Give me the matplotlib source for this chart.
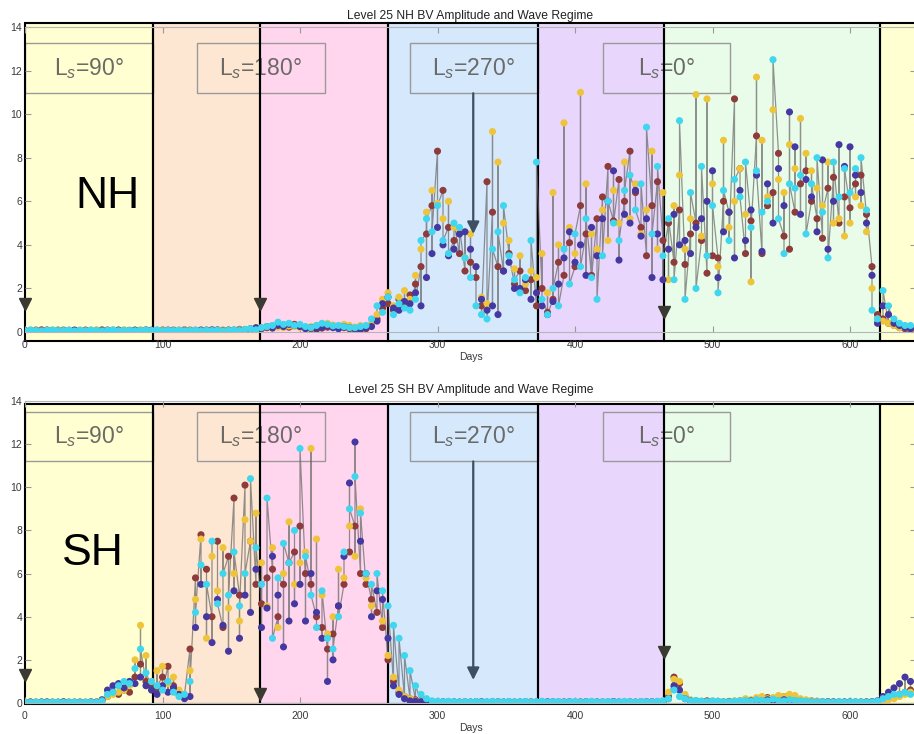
import numpy as np
import matplotlib
matplotlib.use("Agg")
import matplotlib.pyplot as plt
from matplotlib.patches import Rectangle

plt.rcParams['font.family'] = ['Liberation Sans', 'DejaVu Sans']
plt.rcParams['mathtext.fontset'] = 'custom'
plt.rcParams['mathtext.rm'] = 'Liberation Sans'
plt.rcParams['mathtext.it'] = 'Liberation Sans:italic'

# ---------------- data ----------------
days = np.arange(0, 648, 4)

nh_maroon = [
    0.05,0.08,0.06,0.10,0.07,0.05,0.09,0.06,0.08,0.07,
    0.06,0.09,0.05,0.08,0.10,0.06,0.07,0.09,0.05,0.08,
    0.07,0.06,0.10,0.08,0.05,0.09,0.07,0.06,0.08,0.10,
    0.06,0.08,0.07,0.09,0.05,0.10,0.08,0.06,0.09,0.12,
    0.10,0.08,0.12,0.15,0.20,0.18,0.25,0.30,0.22,0.35,
    0.28,0.20,0.15,0.12,0.18,0.22,0.30,0.25,0.20,0.15,
    0.12,0.18,0.15,0.30,0.60,1.10,1.30,1.00,1.50,1.20,
    1.7,2.2,3.0,4.5,5.8,8.3,6.5,4.8,4.2,3.6,
    2.8,3.2,2.5,1.2,6.9,5.5,3.0,2.8,3.6,2.2,
    2.8,1.9,2.4,1.2,2.0,0.9,1.5,3.2,2.6,4.1,
    3.0,5.8,4.5,2.6,5.2,6.2,7.6,5.1,7.0,6.0,
    8.3,6.4,4.8,3.5,5.8,6.9,4.2,5.0,3.2,5.6,
    3.1,4.5,5.0,4.2,2.7,3.5,3.4,6.0,5.5,10.7,
    7.5,3.6,5.1,9.0,3.6,5.8,6.4,8.2,4.4,3.8,
    5.5,6.8,7.4,6.0,5.2,4.3,6.6,7.1,5.0,6.2,
    5.7,6.8,7.2,5.4,3.0,0.8,0.6,0.4,0.3,0.2,
    0.15,0.10]
nh_gold = [
    0.08,0.06,0.10,0.07,0.09,0.05,0.08,0.10,0.06,0.07,
    0.09,0.07,0.06,0.10,0.08,0.05,0.09,0.07,0.10,0.06,
    0.08,0.10,0.07,0.06,0.09,0.08,0.05,0.10,0.07,0.09,
    0.10,0.07,0.09,0.06,0.08,0.07,0.10,0.09,0.06,0.10,
    0.12,0.10,0.15,0.20,0.25,0.30,0.22,0.20,0.28,0.25,
    0.20,0.18,0.25,0.30,0.35,0.40,0.32,0.28,0.35,0.30,
    0.22,0.30,0.25,0.40,0.80,1.50,1.80,1.20,1.60,1.90,
    1.5,2.6,3.8,5.5,6.5,5.9,5.2,6.0,4.8,4.6,
    3.4,4.5,3.0,1.6,1.3,9.2,7.8,5.0,4.2,2.9,
    3.5,2.2,2.8,2.5,3.6,1.8,6.4,4.0,9.6,4.8,
    3.6,11.0,6.8,4.5,3.8,5.6,4.2,6.5,5.0,7.8,
    5.2,6.8,4.5,5.6,8.3,3.8,6.4,2.4,5.8,7.2,
    3.8,5.2,10.9,4.4,10.7,6.8,3.0,8.8,4.8,6.0,
    7.5,5.4,2.3,11.7,8.8,6.2,10.2,7.0,6.4,8.6,
    7.5,9.8,8.2,7.4,6.6,5.8,7.8,5.0,5.2,4.4,
    5.0,6.2,5.8,4.6,2.0,0.6,0.5,0.4,0.3,0.2,
    0.20,0.15]
nh_navy = [
    0.07,0.05,0.08,0.06,0.09,0.07,0.05,0.08,0.06,0.09,
    0.07,0.06,0.08,0.05,0.07,0.09,0.06,0.08,0.07,0.05,
    0.09,0.07,0.06,0.08,0.07,0.05,0.09,0.08,0.06,0.07,
    0.08,0.06,0.09,0.07,0.10,0.08,0.06,0.09,0.07,0.08,
    0.10,0.15,0.20,0.18,0.25,0.20,0.30,0.25,0.35,0.30,
    0.25,0.15,0.20,0.18,0.22,0.30,0.20,0.15,0.25,0.20,
    0.15,0.12,0.20,0.25,0.50,1.30,1.60,1.10,1.00,1.40,
    1.3,1.8,1.2,2.5,3.6,4.8,4.0,3.5,3.8,4.5,
    4.6,3.8,3.0,1.5,1.0,1.2,0.8,2.8,3.2,2.0,
    2.0,2.4,1.5,1.8,1.2,0.8,1.4,2.2,3.4,4.6,
    3.2,4.0,2.6,4.8,3.5,5.2,6.0,7.4,3.3,5.4,
    5.0,6.5,4.4,5.2,2.5,4.5,2.4,3.8,5.4,4.0,
    4.2,3.6,4.8,5.2,6.0,7.4,2.5,4.6,5.5,3.4,
    6.5,4.2,5.6,7.2,3.7,6.8,5.0,7.5,5.8,10.1,
    8.5,5.4,7.0,6.2,4.6,7.9,3.8,6.0,8.6,7.6,
    8.5,7.2,6.4,5.0,2.6,0.4,1.2,0.8,0.4,0.3,
    0.20,0.15]
nh_cyan = [
    0.06,0.09,0.07,0.05,0.08,0.10,0.06,0.07,0.09,0.05,
    0.08,0.06,0.09,0.07,0.05,0.08,0.10,0.06,0.08,0.07,
    0.06,0.08,0.09,0.07,0.10,0.06,0.08,0.07,0.09,0.06,
    0.07,0.09,0.06,0.08,0.07,0.09,0.05,0.08,0.10,0.07,
    0.12,0.15,0.10,0.20,0.25,0.30,0.45,0.35,0.40,0.30,
    0.35,0.25,0.20,0.30,0.40,0.35,0.28,0.30,0.25,0.20,
    0.20,0.25,0.30,0.60,1.20,0.90,1.60,0.80,1.30,1.10,
    1.0,1.5,4.2,5.2,4.6,5.8,4.2,3.6,5.0,4.8,
    3.4,2.5,1.2,0.8,0.6,3.8,4.6,5.8,3.5,2.4,
    1.8,2.5,4.2,7.8,1.5,0.8,2.0,1.2,3.8,2.2,
    4.5,3.0,5.2,2.5,1.5,3.5,6.0,5.0,4.2,6.5,
    7.2,5.6,6.8,9.4,4.5,7.6,3.5,5.2,2.4,9.7,
    1.5,6.4,2.0,7.6,3.5,5.8,1.8,6.5,4.2,7.0,
    6.2,7.8,4.8,7.4,5.5,6.0,12.5,5.2,3.6,6.8,
    6.6,7.2,4.5,6.8,8.0,5.5,3.4,7.8,6.2,7.5,
    6.4,7.5,8.0,5.6,1.0,0.6,1.9,1.2,0.6,0.4,
    0.30,0.30]

sh_maroon = [
    0.03,0.05,0.04,0.03,0.05,0.04,0.03,0.05,0.04,0.03,
    0.04,0.03,0.05,0.04,0.10,0.30,0.50,0.40,0.60,0.50,
    1.2,1.8,1.0,0.8,0.6,1.2,1.7,0.8,0.5,0.3,
    2.5,5.8,7.8,6.2,4.0,7.5,3.5,6.8,9.5,5.0,
    10.1,7.5,5.5,4.6,5.8,6.2,4.0,5.5,6.5,7.0,
    8.2,6.0,5.5,4.0,3.5,2.5,3.2,4.5,5.5,7.0,
    8.2,6.0,5.5,4.8,4.2,3.5,2.0,1.0,0.5,0.3,
    0.20,0.15,0.10,0.08,0.05,0.05,0.04,0.06,0.05,0.04,
    0.05,0.04,0.06,0.05,0.04,0.05,0.06,0.04,0.05,0.04,
    0.04,0.05,0.06,0.04,0.05,0.04,0.05,0.06,0.04,0.05,
    0.05,0.04,0.05,0.06,0.04,0.05,0.04,0.06,0.05,0.04,
    0.05,0.04,0.06,0.05,0.05,0.06,0.08,0.30,1.20,0.90,
    0.30,0.12,0.10,0.08,0.10,0.06,0.08,0.05,0.06,0.08,
    0.10,0.15,0.12,0.20,0.18,0.25,0.15,0.20,0.30,0.22,
    0.20,0.15,0.12,0.10,0.08,0.06,0.05,0.06,0.04,0.05,
    0.05,0.04,0.05,0.04,0.05,0.05,0.10,0.20,0.30,0.40,
    0.50,0.60]
sh_gold = [
    0.04,0.03,0.05,0.04,0.03,0.05,0.04,0.03,0.05,0.04,
    0.04,0.05,0.03,0.05,0.10,0.30,0.40,0.50,0.60,0.80,
    2.0,3.6,2.2,1.0,1.5,1.7,0.9,1.2,0.6,0.4,
    1.5,4.8,7.6,3.0,6.8,5.2,7.2,4.4,6.0,3.8,
    8.5,7.5,8.8,6.5,4.5,7.2,3.5,6.0,8.4,5.5,
    6.5,7.0,11.8,7.6,5.0,3.2,4.0,6.2,5.8,8.2,
    6.8,9.0,5.8,4.5,5.2,3.8,2.2,1.2,0.6,0.3,
    0.20,0.10,0.08,0.06,0.05,0.04,0.05,0.06,0.04,0.05,
    0.05,0.06,0.04,0.05,0.04,0.06,0.05,0.04,0.05,0.06,
    0.04,0.05,0.06,0.05,0.04,0.05,0.04,0.06,0.05,0.04,
    0.05,0.06,0.04,0.05,0.05,0.04,0.06,0.05,0.04,0.05,
    0.04,0.05,0.05,0.06,0.04,0.05,0.10,0.50,1.10,1.00,
    0.40,0.15,0.10,0.08,0.06,0.08,0.05,0.06,0.08,0.10,
    0.10,0.20,0.15,0.25,0.30,0.20,0.25,0.35,0.30,0.40,
    0.35,0.20,0.15,0.10,0.08,0.06,0.05,0.04,0.05,0.04,
    0.05,0.04,0.05,0.06,0.04,0.05,0.08,0.15,0.20,0.30,
    0.40,0.50]
sh_navy = [
    0.03,0.04,0.03,0.05,0.04,0.03,0.04,0.05,0.03,0.04,
    0.04,0.03,0.05,0.04,0.15,0.60,0.80,0.90,0.70,1.00,
    0.9,1.2,0.8,0.6,0.4,0.8,0.5,0.7,0.4,0.2,
    0.3,3.5,5.5,4.0,2.8,4.8,3.6,2.4,5.2,3.0,
    5.0,4.2,6.2,3.5,4.4,6.8,5.0,2.6,3.8,4.6,
    5.5,3.8,6.0,4.2,3.0,1.0,2.0,4.5,6.8,10.2,
    12.1,7.5,6.0,4.0,5.2,4.8,3.0,0.8,0.4,0.2,
    0.10,0.08,0.06,0.05,0.04,0.05,0.06,0.04,0.05,0.04,
    0.05,0.04,0.05,0.06,0.04,0.05,0.04,0.05,0.06,0.04,
    0.05,0.06,0.04,0.05,0.04,0.06,0.05,0.04,0.05,0.06,
    0.04,0.05,0.06,0.04,0.05,0.04,0.05,0.06,0.04,0.05,
    0.05,0.04,0.05,0.06,0.05,0.04,0.06,0.20,0.80,0.60,
    0.20,0.10,0.08,0.06,0.05,0.06,0.04,0.05,0.06,0.05,
    0.06,0.08,0.10,0.12,0.10,0.15,0.12,0.10,0.15,0.12,
    0.10,0.08,0.06,0.05,0.04,0.05,0.06,0.04,0.05,0.05,
    0.05,0.05,0.04,0.05,0.06,0.10,0.30,0.50,0.70,0.90,
    1.20,1.00]
sh_cyan = [
    0.04,0.03,0.05,0.04,0.03,0.05,0.04,0.03,0.04,0.05,
    0.03,0.04,0.05,0.03,0.10,0.40,0.50,0.80,1.00,0.90,
    1.6,2.5,1.4,1.0,0.8,0.6,1.0,0.5,0.3,0.4,
    1.0,4.2,6.4,5.5,7.5,4.6,6.0,5.0,7.0,4.5,
    6.0,10.4,7.2,5.5,9.5,3.0,5.8,7.4,6.5,8.0,
    11.8,6.8,5.0,3.5,5.2,3.0,2.5,4.0,7.0,9.0,
    10.5,8.8,6.0,5.5,6.0,5.2,4.5,3.6,3.0,2.2,
    1.5,0.8,0.4,0.2,0.1,0.08,0.06,0.08,0.06,0.05,
    0.06,0.05,0.07,0.05,0.06,0.08,0.05,0.06,0.07,0.05,
    0.06,0.07,0.05,0.06,0.08,0.05,0.06,0.07,0.05,0.06,
    0.07,0.05,0.06,0.08,0.05,0.06,0.07,0.05,0.06,0.08,
    0.06,0.05,0.07,0.06,0.05,0.08,0.10,0.20,0.60,0.30,
    0.20,0.10,0.12,0.08,0.06,0.10,0.08,0.06,0.05,0.08,
    0.10,0.12,0.08,0.15,0.12,0.10,0.18,0.12,0.10,0.15,
    0.12,0.10,0.08,0.06,0.05,0.06,0.05,0.04,0.06,0.05,
    0.05,0.06,0.05,0.04,0.05,0.08,0.20,0.30,0.40,0.40,
    0.50,0.40]

series_colors = ['#8e3b3b', '#eec43a', '#4538a0', '#3fd6ee']

season_start = [0, 93, 171, 264, 373, 465, 622]
season_end = [93, 171, 264, 373, 465, 622, 700]
season_colors = ['#ffffd2', '#fde6d2', '#ffd6ee', '#d5e8fc',
                 '#e9d6fc', '#e9fce9', '#ffffd2']

ls_labels = ['L$_s$=90°', 'L$_s$=180°', 'L$_s$=270°', 'L$_s$=0°']
ls_box_x0 = [0, 125, 280, 420]
ls_box_x1 = [93, 218, 373, 513]
ls270_day = 326
tri_days = [0, 171, 465]

panels = [
    dict(title='Level 25 NH BV Amplitude and Wave Regime', hem='NH',
         series=[nh_maroon, nh_gold, nh_navy, nh_cyan],
         patch_y=(-0.41, 14.18), box_y=(10.96, 13.26), arrow_tip=4.5,
         tri_y=[1.28, 1.28, 0.92], hem_xy=(60, 6.2),
         pos=[25/914, 1-332/734, 891/914, 305/734]),
    dict(title='Level 25 SH BV Amplitude and Wave Regime', hem='SH',
         series=[sh_maroon, sh_gold, sh_navy, sh_cyan],
         patch_y=(-0.03, 13.84), box_y=(11.2, 13.5), arrow_tip=1.07,
         tri_y=[1.3, 0.42, 2.35], hem_xy=(49, 6.95),
         pos=[25/914, 1-703/734, 891/914, 302/734]),
]

fig = plt.figure(figsize=(9.14, 7.34), dpi=100)

for p in panels:
    ax = fig.add_axes(p['pos'])
    ax.set_xlim(0, 648)
    ax.set_ylim(0, 14)
    y0, y1 = p['patch_y']
    for s, e, c in zip(season_start, season_end, season_colors):
        ax.add_patch(Rectangle((s, y0), e - s, y1 - y0, facecolor=c,
                               edgecolor='none', zorder=0, clip_on=False))
    # label boxes
    b0, b1 = p['box_y']
    for lab, bx0, bx1 in zip(ls_labels, ls_box_x0, ls_box_x1):
        ax.add_patch(Rectangle((bx0, b0), bx1 - bx0, b1 - b0, facecolor='none',
                               edgecolor='#9a9a9a', lw=1.0, zorder=0.6))
        ax.text((bx0 + bx1) / 2, (b0 + b1) / 2, lab, ha='center', va='center',
                fontsize=16.5, color='#6a6a66', zorder=0.7)
    for s, e in zip(season_start, season_end):
        ax.add_patch(Rectangle((s, y0), e - s, y1 - y0, facecolor='none',
                               edgecolor='black', lw=1.5, zorder=1, clip_on=False))
    # data
    arr = np.array(p['series'])
    xs = np.repeat(days, arr.shape[0])
    ys = arr.T.ravel()
    ax.plot(xs, ys, color='#666666', lw=0.9, alpha=0.7, zorder=2)
    for vals, col in zip(p['series'], series_colors):
        ax.scatter(days, vals, s=26, color=col, edgecolors='none', zorder=3)
    # arrows
    ax.annotate('', xy=(ls270_day, p['arrow_tip']), xytext=(ls270_day, b0),
                arrowprops=dict(arrowstyle='-|>', color='#3d4f60', lw=1.6,
                                mutation_scale=18, shrinkA=0, shrinkB=0), zorder=4)
    ax.plot(tri_days, p['tri_y'], 'v', color='#3a3a32', ms=9, zorder=4,
            clip_on=False)
    ax.text(p['hem_xy'][0], p['hem_xy'][1], p['hem'], fontsize=32,
            ha='center', va='center', color='black', zorder=5)
    # axes styling
    for sp in ax.spines.values():
        sp.set_color('#b5b5b5')
        sp.set_linewidth(0.8)
    ax.spines['left'].set_visible(False)
    ax.set_xticks([0, 100, 200, 300, 400, 500, 600])
    ax.set_yticks([0, 2, 4, 6, 8, 10, 12, 14])
    ax.tick_params(axis='both', direction='in', length=4, color='#9a9a9a',
                   top=True, right=True, labelcolor='#3a3a3a', labelsize=7.5)
    ax.tick_params(axis='x', pad=5.5)
    ax.tick_params(axis='y', pad=2)
    ax.set_xlabel('Days', fontsize=7.5, color='#3a3a3a', labelpad=1.5)
    ax.set_title(p['title'], fontsize=8.7, color='#222222', pad=6)

fig.savefig('out.png', dpi=100)
